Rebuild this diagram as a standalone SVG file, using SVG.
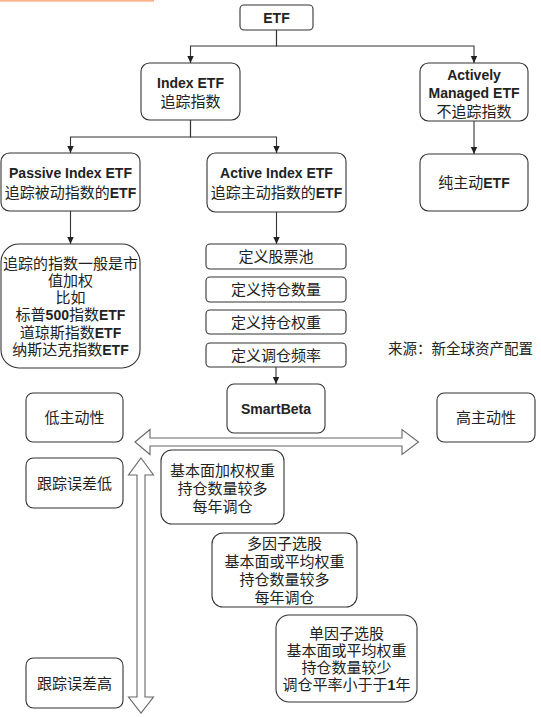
<svg xmlns="http://www.w3.org/2000/svg" width="541" height="717" viewBox="0 0 541 717">
<defs>
<marker id="ah" markerUnits="userSpaceOnUse" markerWidth="8" markerHeight="8" viewBox="0 0 8 8" refX="7" refY="4" orient="auto">
<path d="M0,0.8 L7,4 L0,7.2 Z" fill="#222"/>
</marker>
</defs>
<style>
.box{fill:#fff;stroke:#333;stroke-width:1.1}
.t{font-family:"Liberation Sans","Noto Sans CJK SC",sans-serif;font-size:15px;fill:#222;text-anchor:middle}
.b{font-weight:bold;font-size:14px}
.e{fill:none;stroke:#333;stroke-width:1.1;marker-end:url(#ah)}
.da{fill:#fff;stroke:#666;stroke-width:1.1}
</style>
<rect x="0" y="0" width="541" height="717" fill="#fff"/>
<rect x="0" y="0" width="154" height="1.6" fill="#f8b088"/>

<g id="connectors">
<path class="e" d="M276.5 30 V46 H190.5 V63"/>
<path class="e" d="M276.5 30 V46 H474 V63"/>
<path class="e" d="M190.5 120 V137 H70.5 V153"/>
<path class="e" d="M190.5 120 V137 H276.5 V153"/>
<path class="e" d="M474 121 V154"/>
<path class="e" d="M70.5 211 V244"/>
<path class="e" d="M276.5 212 V244"/>
<path class="e" d="M276 367 V384"/>
</g>

<g id="etf">
<rect class="box" x="240" y="5" width="73" height="25" rx="4"/>
<text class="t b" x="276.5" y="22.5">ETF</text>
</g>
<g id="index-etf">
<rect class="box" x="141" y="63" width="99" height="57" rx="8.5"/>
<text class="t b" x="190.5" y="88">Index ETF</text>
<text class="t" x="190.5" y="106.5">追踪指数</text>
</g>
<g id="actively-managed">
<rect class="box" x="420" y="63" width="108" height="58" rx="8.5"/>
<text class="t b" x="474" y="80">Actively</text>
<text class="t b" x="474" y="98">Managed ETF</text>
<text class="t" x="474" y="116.5">不追踪指数</text>
</g>
<g id="passive-index">
<rect class="box" x="1" y="153" width="139" height="58" rx="8.5"/>
<text class="t b" x="70.5" y="178">Passive Index ETF</text>
<text class="t" x="70.5" y="197.5">追踪被动指数的<tspan class="b">ETF</tspan></text>
</g>
<g id="active-index">
<rect class="box" x="207" y="153" width="139" height="59" rx="8.5"/>
<text class="t b" x="276.5" y="178">Active Index ETF</text>
<text class="t" x="276.5" y="197.5">追踪主动指数的<tspan class="b">ETF</tspan></text>
</g>
<g id="pure-active">
<rect class="box" x="420" y="154" width="108" height="57" rx="8.5"/>
<text class="t" x="474" y="188">纯主动<tspan class="b">ETF</tspan></text>
</g>
<g id="passive-desc">
<rect class="box" x="1" y="244" width="139" height="124" rx="18"/>
<text class="t" x="70.5" y="268.5">追踪的指数一般是市</text>
<text class="t" x="70.5" y="285.8">值加权</text>
<text class="t" x="70.5" y="303.1">比如</text>
<text class="t" x="70.5" y="320.4">标普<tspan class="b">500</tspan>指数<tspan class="b">ETF</tspan></text>
<text class="t" x="70.5" y="337.7">道琼斯指数<tspan class="b">ETF</tspan></text>
<text class="t" x="70.5" y="355">纳斯达克指数<tspan class="b">ETF</tspan></text>
</g>
<g id="define-pool">
<rect class="box" x="206" y="244" width="140" height="25" rx="4"/>
<text class="t" x="276" y="262">定义股票池</text>
</g>
<g id="define-count">
<rect class="box" x="206" y="277" width="140" height="25" rx="4"/>
<text class="t" x="276" y="295">定义持仓数量</text>
</g>
<g id="define-weight">
<rect class="box" x="206" y="310" width="140" height="24" rx="4"/>
<text class="t" x="276" y="327.5">定义持仓权重</text>
</g>
<g id="define-freq">
<rect class="box" x="206" y="343" width="140" height="24" rx="4"/>
<text class="t" x="276" y="360.5">定义调仓频率</text>
</g>
<g id="source-note">
<text class="t" x="460.5" y="353.5" style="font-size:14.5px">来源：新全球资产配置</text>
</g>
<g id="smartbeta">
<rect class="box" x="227" y="384" width="98" height="49" rx="7"/>
<text class="t b" x="276" y="413.5">SmartBeta</text>
</g>
<g id="low-active">
<rect class="box" x="26" y="393" width="97" height="49" rx="7"/>
<text class="t" x="74.5" y="423">低主动性</text>
</g>
<g id="high-active">
<rect class="box" x="437" y="393" width="98" height="49" rx="7"/>
<text class="t" x="486" y="423">高主动性</text>
</g>
<g id="activity-axis">
<polygon class="da" points="135,442 150,429.5 150,438 402,438 402,429.5 418.5,442 402,454.5 402,446 150,446 150,454.5"/>
</g>
<g id="tracking-axis">
<polygon class="da" points="141,458 153.5,475 145,475 145,697 153.5,697 141,713 128.5,697 137,697 137,475 128.5,475"/>
</g>
<g id="low-tracking">
<rect class="box" x="26" y="458" width="97" height="50" rx="7.5"/>
<text class="t" x="74.5" y="488.5">跟踪误差低</text>
</g>
<g id="high-tracking">
<rect class="box" x="26" y="658" width="97" height="50" rx="7.5"/>
<text class="t" x="74.5" y="688.5">跟踪误差高</text>
</g>
<g id="fundamental">
<rect class="box" x="161" y="450" width="123" height="74" rx="11"/>
<text class="t" x="222.5" y="475.5">基本面加权权重</text>
<text class="t" x="222.5" y="493.5">持仓数量较多</text>
<text class="t" x="222.5" y="511.5">每年调仓</text>
</g>
<g id="multi-factor">
<rect class="box" x="212" y="533" width="145" height="74" rx="11"/>
<text class="t" x="284.5" y="548.5">多因子选股</text>
<text class="t" x="284.5" y="566.5">基本面或平均权重</text>
<text class="t" x="284.5" y="584.5">持仓数量较多</text>
<text class="t" x="284.5" y="602.5">每年调仓</text>
</g>
<g id="single-factor">
<rect class="box" x="276" y="615" width="141" height="87" rx="13"/>
<text class="t" x="346.5" y="638.5">单因子选股</text>
<text class="t" x="346.5" y="655.5">基本面或平均权重</text>
<text class="t" x="346.5" y="672.5">持仓数量较少</text>
<text class="t" x="346.5" y="689.5">调仓平率小于于<tspan class="b">1</tspan>年</text>
</g>
</svg>
